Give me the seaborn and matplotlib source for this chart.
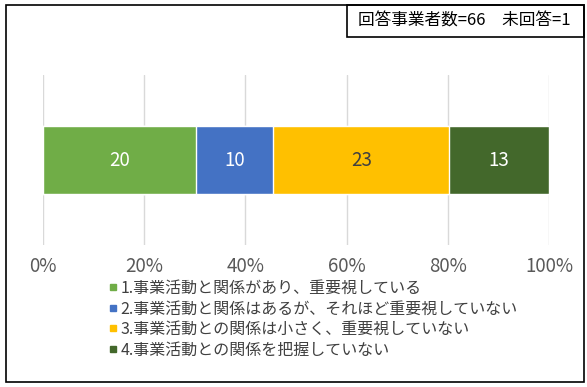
import matplotlib
matplotlib.use('Agg')
import matplotlib.pyplot as plt
import seaborn as sns
from matplotlib.lines import Line2D
from matplotlib.patches import Rectangle

categories = ['1.事業活動と関係があり、重要視している',
              '2.事業活動と関係はあるが、それほど重要視していない',
              '3.事業活動との関係は小さく、重要視していない',
              '4.事業活動との関係を把握していない']
counts = [20, 10, 23, 13]
colors = ['#70AD47', '#4472C4', '#FFC000', '#43682B']
label_colors = ['white', 'white', '#404040', 'white']
ticks = [0, 20, 40, 60, 80, 100]
note = '回答事業者数=66　未回答=1'

sns.set_theme(style='white')
plt.rcParams['font.family'] = ['Noto Sans CJK JP', 'DejaVu Sans']

W, H = 587, 387
fig = plt.figure(figsize=(W / 100, H / 100), dpi=100)
ax = fig.add_axes([43 / W, 1 - 245 / H, (549 - 43) / W, (245 - 75) / H])

total = sum(counts)
cum = []
s = 0
for c in counts:
    s += c
    cum.append(s / total * 100)

# stacked bar: draw cumulative widths from largest to smallest
for i in reversed(range(len(counts))):
    sns.barplot(x=[cum[i]], y=[''], orient='h', color=colors[i],
                width=0.4, saturation=1, ax=ax, zorder=3)

start = 0
for i, c in enumerate(counts):
    mid = (start + cum[i]) / 2
    ax.text(mid, 0, str(c), ha='center', va='center', fontsize=13.5,
            color=label_colors[i], zorder=4)
    start = cum[i]

ax.set_xlim(0, 100)
ax.set_ylim(0.5, -0.5)
ax.set_xticks(ticks)
ax.set_xticklabels([f'{t}%' for t in ticks], fontsize=13.5, color='#595959')
ax.tick_params(axis='x', length=0, pad=8)
ax.set_yticks([])
ax.set_xlabel('')
ax.set_ylabel('')
for sp in ax.spines.values():
    sp.set_visible(False)
ax.grid(axis='x', color='#D9D9D9', linewidth=1, zorder=0)
ax.set_axisbelow(True)

handles = [Line2D([], [], marker='s', linestyle='none', markersize=5,
                  markerfacecolor=col, markeredgecolor=col) for col in colors]
fig.legend(handles, categories, loc='upper left',
           bbox_to_anchor=(109 / W, 1 - 280 / H), frameon=False,
           fontsize=11.5, handlelength=0.5, handletextpad=0.2,
           labelspacing=0.22, borderpad=0, borderaxespad=0,
           labelcolor='#404040')

fig.add_artist(Rectangle((6 / W, 5 / H), 578 / W, 377 / H, transform=fig.transFigure,
                         fill=False, edgecolor='black', linewidth=1.2))
fig.add_artist(Rectangle((347 / W, 1 - 37 / H), 237 / W, 32 / H, transform=fig.transFigure,
                         fill=False, edgecolor='black', linewidth=1.2))
fig.text(464 / W, 1 - 21 / H, note, ha='center', va='center', fontsize=12, color='black')

fig.savefig('out.png', dpi=100)
